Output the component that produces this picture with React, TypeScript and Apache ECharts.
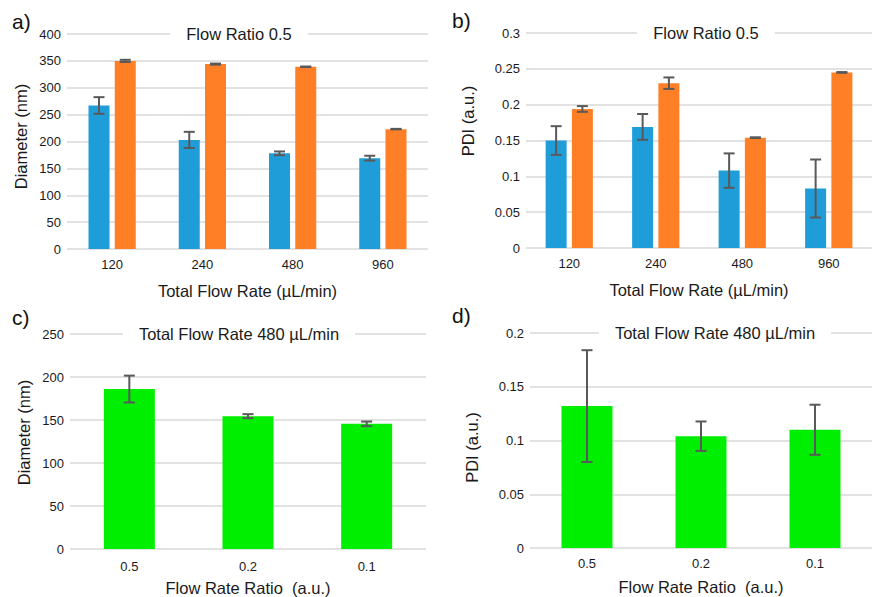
import React, { useEffect, useRef } from "react";
import * as echarts from "echarts";

const flowRates = ["120", "240", "480", "960"];
const diamBlue = [267, 203, 178, 169];
const diamBlueErr = [15.5, 15, 3.5, 4.5];
const diamOrange = [350, 344, 339, 223];
const diamOrangeErr = [2, 1, 0.5, 0.5];
const pdiBlue = [0.15, 0.169, 0.108, 0.083];
const pdiBlueErr = [0.02, 0.018, 0.024, 0.0405];
const pdiOrange = [0.194, 0.23, 0.154, 0.245];
const pdiOrangeErr = [0.004, 0.008, 0.0005, 0.0005];
const ratios = ["0.5", "0.2", "0.1"];
const diamRatio = [186, 154.5, 145.5];
const diamRatioErr = [15.6, 2.3, 2.7];
const pdiRatio = [0.132, 0.104, 0.11];
const pdiRatioErr = [0.052, 0.0137, 0.0233];

const panelTitles = ["Flow Ratio 0.5", "Flow Ratio 0.5", "Total Flow Rate 480 µL/min", "Total Flow Rate 480 µL/min"];
const panelLetters = ["a)", "b)", "c)", "d)"];
const xNames = ["Total Flow Rate (µL/min)", "Total Flow Rate (µL/min)", "Flow Rate Ratio  (a.u.)", "Flow Rate Ratio  (a.u.)"];
const yNames = ["Diameter (nm)", "PDI (a.u.)", "Diameter (nm)", "PDI (a.u.)"];

const FONT = "'Liberation Sans', Arial, sans-serif";
const BLUE = "#1f9dd9";
const ORANGE = "#ff7f27";
const GREEN = "#00ee00";
const ERR = "#595959";
const TEXT = "#1a1a1a";

function errSeries(gridIdx: number, vals: number[], errs: number[], offset: number) {
  return {
    type: "custom",
    xAxisIndex: gridIdx,
    yAxisIndex: gridIdx,
    z: 5,
    encode: { x: 0, y: [1, 2] },
    data: vals.map((v, i) => [i, v - errs[i], v + errs[i]]),
    renderItem: (params: any, api: any) => {
      const lo = api.coord([api.value(0), api.value(1)]);
      const hi = api.coord([api.value(0), api.value(2)]);
      const x = lo[0] + offset;
      const w = 5.5;
      const st = { stroke: ERR, lineWidth: 2 };
      return {
        type: "group",
        children: [
          { type: "line", shape: { x1: x, y1: lo[1], x2: x, y2: hi[1] }, style: st },
          { type: "line", shape: { x1: x - w, y1: lo[1], x2: x + w, y2: lo[1] }, style: st },
          { type: "line", shape: { x1: x - w, y1: hi[1], x2: x + w, y2: hi[1] }, style: st },
        ],
      };
    },
  };
}

export default function App() {
  const ref = useRef<HTMLDivElement>(null);
  useEffect(() => {
    if (!ref.current) return;
    const chart = echarts.init(ref.current, undefined, { renderer: "svg" });
    const grids = [
      { left: 67, top: 34, width: 361, height: 215 },
      { left: 526, top: 33, width: 359, height: 215 },
      { left: 70, top: 334, width: 356, height: 215 },
      { left: 530, top: 333, width: 343, height: 215 },
    ];
    const yMax = [400, 0.3, 250, 0.2];
    const yInt = [50, 0.05, 50, 0.05];
    const yGap = [38, 50, 38, 50];
    const yPad = [[0, 0, 0, 10], [0, 0, 0, 39], [0, 0, 0, 18], [0, 14, 0, 0]];
    const xGap = [33, 33, 30, 30];
    const xMargin = [9, 9, 11, 9];
    const cats = [flowRates, flowRates, ratios, ratios];

    const xAxis = grids.map((_, i) => ({
      type: "category",
      gridIndex: i,
      data: cats[i],
      axisLine: { show: false },
      axisTick: { show: false },
      axisLabel: { color: TEXT, fontSize: 13, fontFamily: FONT, margin: xMargin[i] },
      name: xNames[i],
      nameLocation: "middle",
      nameGap: xGap[i],
      nameTextStyle: { color: TEXT, fontSize: 16.5, fontFamily: FONT },
    }));
    const yAxis = grids.map((_, i) => ({
      type: "value",
      gridIndex: i,
      min: 0,
      max: yMax[i],
      interval: yInt[i],
      axisLine: { show: false },
      axisTick: { show: false },
      splitLine: { lineStyle: { color: "#d9d9d9", width: 1.5 } },
      axisLabel: {
        color: TEXT,
        fontSize: 13,
        fontFamily: FONT,
        margin: 6,
        formatter: (v: number) => String(+v.toFixed(4)),
      },
      name: yNames[i],
      nameLocation: "middle",
      nameGap: yGap[i],
      nameTextStyle: { color: TEXT, fontSize: 16.5, fontFamily: FONT, padding: yPad[i] },
    }));

    const barBase = (i: number, data: number[], color: string, width: number) => ({
      type: "bar",
      xAxisIndex: i,
      yAxisIndex: i,
      data,
      barWidth: width,
      barGap: "25%",
      itemStyle: { color },
    });

    const off = (21 + 21 * 0.25) / 2;
    const series: any[] = [
      barBase(0, diamBlue, BLUE, 21),
      barBase(0, diamOrange, ORANGE, 21),
      barBase(1, pdiBlue, BLUE, 21),
      barBase(1, pdiOrange, ORANGE, 21),
      barBase(2, diamRatio, GREEN, 51),
      barBase(3, pdiRatio, GREEN, 51),
      errSeries(0, diamBlue, diamBlueErr, -off),
      errSeries(0, diamOrange, diamOrangeErr, off),
      errSeries(1, pdiBlue, pdiBlueErr, -off),
      errSeries(1, pdiOrange, pdiOrangeErr, off),
      errSeries(2, diamRatio, diamRatioErr, 0),
      errSeries(3, pdiRatio, pdiRatioErr, 0),
    ];

    const titlePos = [
      [239, 34],
      [706, 33],
      [239, 334],
      [715, 333],
    ];
    const letterPos = [
      [12, 11],
      [452, 10],
      [12, 307],
      [452, 305],
    ];
    const graphic: any[] = [];
    titlePos.forEach((p, i) => {
      graphic.push({
        type: "text",
        x: p[0],
        y: p[1],
        z: 100,
        style: {
          text: panelTitles[i],
          fill: TEXT,
          font: `16.5px ${FONT}`,
          textAlign: "center",
          textVerticalAlign: "middle",
          backgroundColor: "#ffffff",
          padding: [2, 16],
        },
      });
    });
    letterPos.forEach((p, i) => {
      graphic.push({
        type: "text",
        x: p[0],
        y: p[1],
        z: 100,
        style: {
          text: panelLetters[i],
          fill: "#111",
          font: `21px ${FONT}`,
          textAlign: "left",
          textVerticalAlign: "top",
        },
      });
    });

    chart.setOption({
      animation: false,
      backgroundColor: "#ffffff",
      textStyle: { fontFamily: FONT },
      grid: grids,
      xAxis,
      yAxis,
      series,
      graphic,
    });
    return () => chart.dispose();
  }, []);
  return (
    <div
      ref={ref}
      style={{ position: "fixed", left: 0, top: 0, width: 872, height: 597, background: "#fff" }}
    />
  );
}
